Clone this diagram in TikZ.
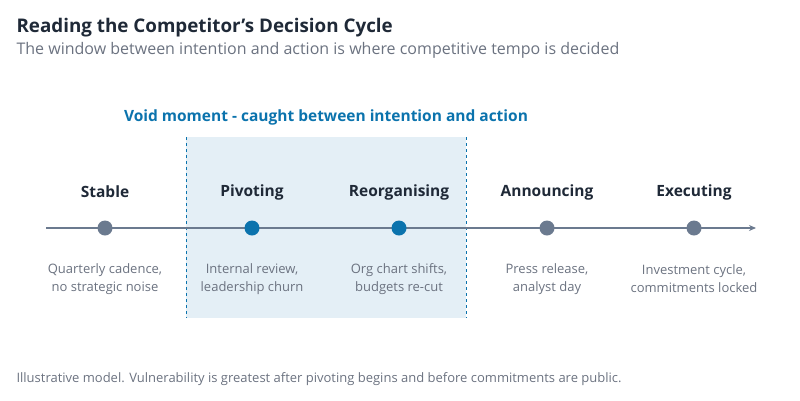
\documentclass[tikz,border=0pt]{standalone}
\usepackage{fontspec}
\setmainfont{Open Sans}
\usetikzlibrary{arrows.meta}
\definecolor{ink}{HTML}{1F2937}
\definecolor{sub}{HTML}{6B7280}
\definecolor{axis}{HTML}{6B7A8F}
\definecolor{blu}{HTML}{0B73AD}
\definecolor{voidbg}{HTML}{E4EFF6}
\tikzset{
  stagelbl/.style={font=\fontsize{15.5}{18}\selectfont\bfseries, text=ink},
  desc/.style={font=\fontsize{13}{18}\selectfont, text=sub, align=center},
  dotg/.style={circle, fill=axis, minimum size=15pt, inner sep=0pt},
  dotb/.style={circle, fill=blu, minimum size=15pt, inner sep=0pt},
}
\begin{document}
\begin{tikzpicture}[x=1pt,y=-1pt]
\useasboundingbox (0,0) rectangle (800,400);
\fill[voidbg] (186,137) rectangle (466,318);
\draw[blu, dashed, thin] (186,137) -- (186,318);
\draw[blu, dashed, thin] (466,137) -- (466,318);
\node[anchor=west, font=\fontsize{18.8}{22}\selectfont\bfseries, text=ink] (title) at (13,28) {Reading the Competitor\symbol{39}s Decision Cycle};
\node[anchor=west, font=\fontsize{16}{19}\selectfont, text=sub] (subt) at (13,50) {The window between intention and action is where competitive tempo is decided};
\node[font=\fontsize{15.5}{18}\selectfont\bfseries, text=blu] (void) at (326,117) {Void moment - caught between intention and action};
\coordinate (a0) at (46,228);
\coordinate (a1) at (756,228);
\draw[axis, line width=1.2pt, -{Stealth[length=7pt,width=6pt]}] (a0) -- (a1);
\node[dotg] (d1) at (105,228) {};
\node[dotb] (d2) at (252,228) {};
\node[dotb] (d3) at (399,228) {};
\node[dotg] (d4) at (547,228) {};
\node[dotg] (d5) at (694,228) {};
\node[stagelbl] (l1) at (105,192) {Stable};
\node[stagelbl] (l2) at (252,192) {Pivoting};
\node[stagelbl] (l3) at (399,192) {Reorganising};
\node[stagelbl] (l4) at (547,192) {Announcing};
\node[stagelbl] (l5) at (694,192) {Executing};
\node[desc] (t1) at (105,279) {Quarterly cadence,\\no strategic noise};
\node[desc] (t2) at (252,279) {Internal review,\\leadership churn};
\node[desc] (t3) at (399,279) {Org chart shifts,\\budgets re-cut};
\node[desc] (t4) at (547,279) {Press release,\\analyst day};
\node[desc] (t5) at (694,279) {Investment cycle,\\commitments locked};
\node[anchor=west, font=\fontsize{13}{15}\selectfont, text=sub] (foot) at (13,379) {Illustrative model. Vulnerability is greatest after pivoting begins and before commitments are public.};
\end{tikzpicture}
\end{document}
